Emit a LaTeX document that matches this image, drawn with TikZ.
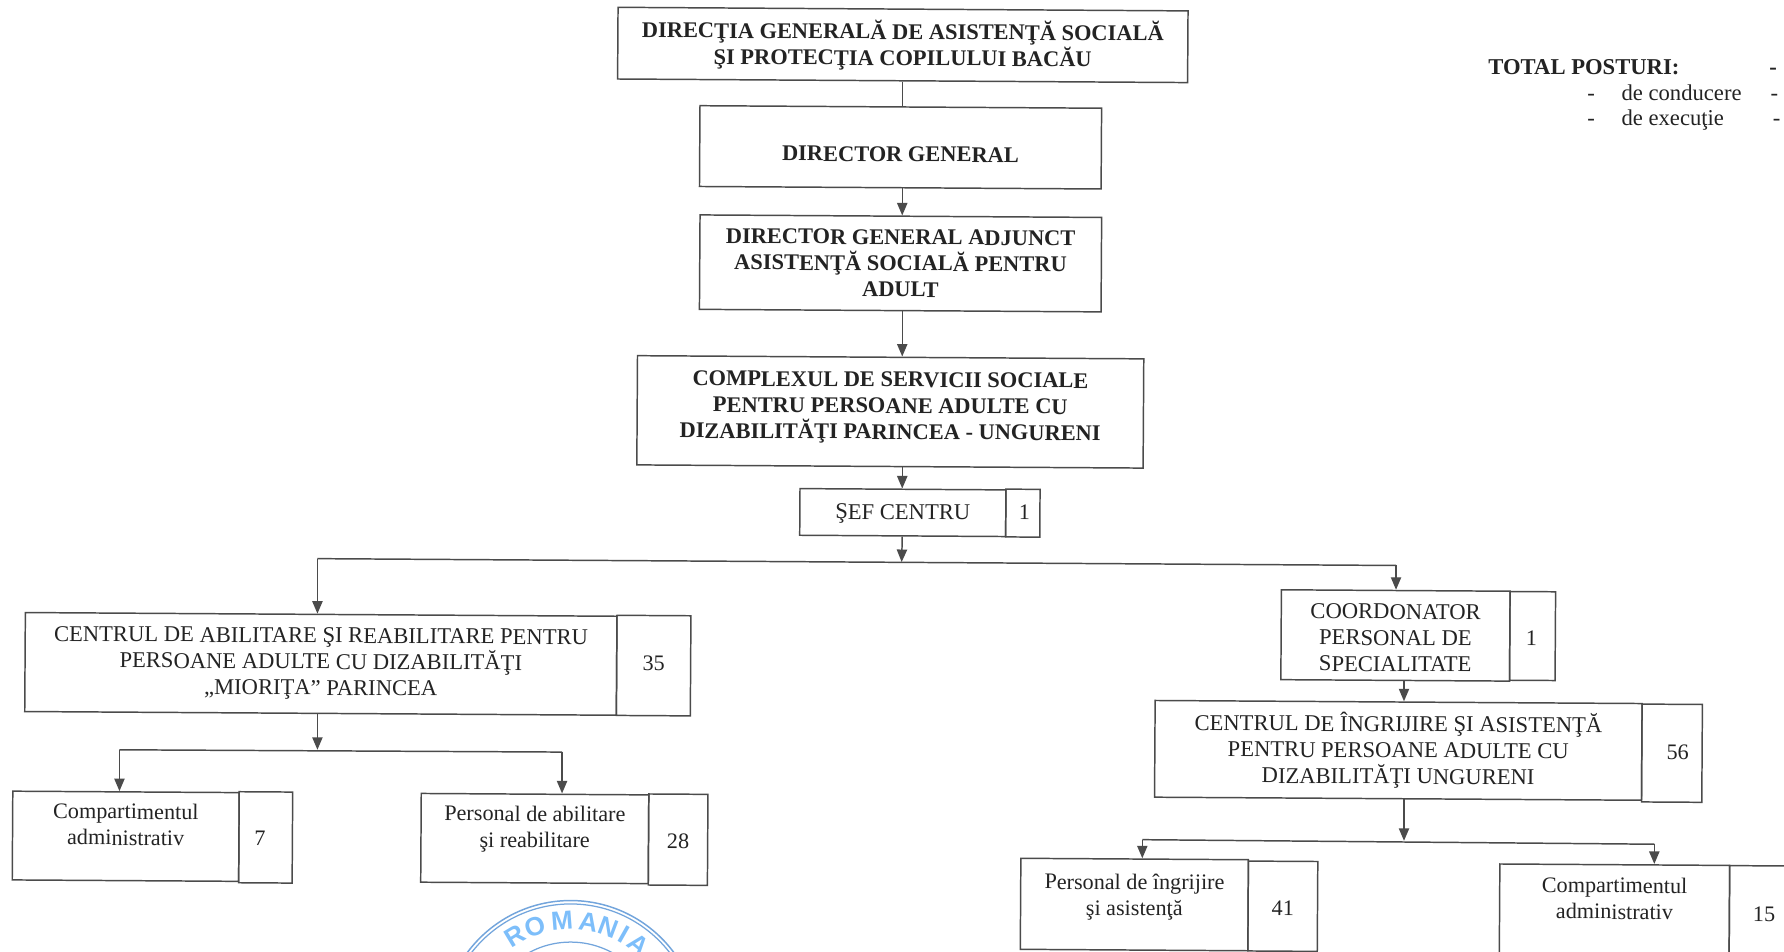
\documentclass[tikz,border=0pt]{standalone}
\usepackage{fontspec}
\setmainfont{Liberation Serif}
\newfontfamily\sealfont{Liberation Sans}
\usetikzlibrary{arrows.meta}
\definecolor{ink}{RGB}{35,35,35}
\definecolor{rule}{RGB}{75,75,75}
\definecolor{seal}{RGB}{125,190,250}
\definecolor{sealring}{RGB}{115,165,220}
\tikzset{
  x=1pt,y=-1pt,
  tilt/.style={rotate=-0.36},
  box/.style={draw=rule,line width=1.3pt,rectangle,inner sep=0pt,align=center,text=ink,tilt,
    font=\fontsize{19.5}{23}\selectfont},
  capbox/.style={box,font=\fontsize{19.85}{23}\selectfont},
  bbox/.style={box,font=\fontsize{19.7}{23}\selectfont\bfseries},
  free/.style={anchor=base west,inner sep=0pt,text=ink,font=\fontsize{19.9}{23}\selectfont},
  freeb/.style={free,font=\fontsize{19.9}{23}\selectfont\bfseries},
  link/.style={draw=rule,line width=1.3pt},
  arr/.style={link,-{Triangle[length=11pt,width=9pt]}},
}
\newcommand{\bx}[7]{% name, x1, x2, y1, y2, style, text
  \node[#6,minimum width={#3-#2},minimum height={#5-#4}] (#1)
    at ({(#2+#3)/2},{(#4+#5)/2}) {#7};}
% single line of text, moved by dx,dy from the centre of its box
\newcommand{\cnt}[3]{\hspace*{\dimexpr2\dimexpr#1pt\relax\relax}\raisebox{\dimexpr-#2pt-6.5pt\relax}[0pt][0pt]{#3}}
\begin{document}
\begin{tikzpicture}
\useasboundingbox (0,0) rectangle (1568,836);
\begin{scope}
\clip (0,0) rectangle (1568,836);
% seal
\coordinate (sc) at (501.5,904.5);
\draw[sealring,line width=1.3pt] (sc) circle[radius=113];
\draw[sealring,line width=1.1pt] (sc) circle[radius=110];
\draw[sealring,line width=1.1pt] (sc) circle[radius=76.5];
\foreach \a/\l in {-31/R,-19/O,-4.5/M,9.5/A,20.5/N,29.5/I,39/A}{
  \node[text=seal,inner sep=0pt,rotate=-\a,font=\fontsize{23}{23}\selectfont\sealfont\bfseries]
    (sl\a) at ({501.5+95.5*sin(\a)},{904.5-95.5*cos(\a)}) {\l};
}
% boxes
\bx{b1}{543}{1044}{8}{71}{bbox}{DIRECŢIA GENERALĂ DE ASISTENŢĂ SOCIALĂ\\ŞI PROTECŢIA COPILULUI BACĂU}
\bx{b2}{615}{968}{94}{165}{bbox}{\cnt{0}{6}{DIRECTOR GENERAL}}
\bx{b3}{615}{968}{190}{273}{bbox}{DIRECTOR GENERAL ADJUNCT\\ASISTENŢĂ SOCIALĂ PENTRU\\ADULT}
\bx{b4}{560}{1005}{314}{410}{bbox}{COMPLEXUL DE SERVICII SOCIALE\\PENTRU PERSOANE ADULTE CU\\DIZABILITĂŢI PARINCEA - UNGURENI\\[-12pt]~}
\bx{b5}{703}{884}{430}{471}{capbox}{\cnt{0}{-0.5}{ŞEF CENTRU}}
\bx{c5}{884}{914}{430}{472}{box}{\cnt{1.5}{-1}{1}}
\bx{b6}{22}{542}{540}{627}{capbox}{CENTRUL DE ABILITARE ŞI REABILITARE PENTRU\\PERSOANE ADULTE CU DIZABILITĂŢI\\„MIORIŢA” PARINCEA}
\bx{c6}{542}{607}{541}{629}{box}{\cnt{0}{-2}{35}}
\bx{b7}{1126}{1327}{519}{598}{capbox}{\rule{0pt}{17.5pt}COORDONATOR\\PERSONAL DE\\SPECIALITATE}
\bx{c7}{1327}{1367}{520}{598}{box}{\cnt{-1}{2}{1}}
\bx{b8}{1015}{1443}{617}{702}{capbox}{CENTRUL DE ÎNGRIJIRE ŞI ASISTENŢĂ\\PENTRU PERSOANE ADULTE CU\\DIZABILITĂŢI UNGURENI}
\bx{c8}{1443}{1496}{619}{705}{box}{\cnt{5}{-1}{56}}
\bx{b9}{11}{210}{696}{774}{box}{Compartimentul\\administrativ\\[-2pt]~}
\bx{c9}{210}{257}{696}{776}{box}{\cnt{-5}{1}{7}}
\bx{b10}{370}{570}{698}{776}{box}{Personal de abilitare\\şi reabilitare\\[-2pt]~}
\bx{c10}{570}{622}{698}{778}{box}{\cnt{0}{1}{28}}
\bx{b11}{897}{1097}{755}{835}{box}{Personal de îngrijire\\şi asistenţă\\[-6pt]~}
\bx{c11}{1097}{1158}{757}{836}{box}{\cnt{0}{2}{41}}
\bx{b12}{1318}{1520}{760}{840}{box}{Compartimentul\\administrativ\\[-2pt]~}
\bx{c12}{1520}{1585}{761}{842}{box}{\cnt{-2}{2}{15}}
\end{scope}
% junctions
\coordinate (sp) at (793,0);
\coordinate (j1) at (792.5,494);
\coordinate (j1l) at (279,491);
\coordinate (j1r) at (1227,497);
\coordinate (j2) at (279,659);
\coordinate (j2l) at (105,659);
\coordinate (j2r) at (494,661);
\coordinate (j3) at (1234,739);
\coordinate (j3l) at (1004,738);
\coordinate (j3r) at (1454,742);
% connectors
\draw[link] (sp |- b1.south) -- (sp |- b2.north);
\draw[arr] (sp |- b2.south) -- (sp |- b3.north);
\draw[arr] (sp |- b3.south) -- (sp |- b4.north);
\draw[arr] (sp |- b4.south) -- (sp |- b5.north);
\draw[arr] (sp |- b5.south) -- (j1);
\draw[link] (j1l) -- (j1r);
\draw[arr] (j1l) -- (j1l |- b6.north);
\draw[arr] (j1r) -- (j1r |- b7.north);
\draw[arr] (b7.south -| j3) -- (j3 |- b8.north);
\draw[arr] (j2 |- b6.south) -- (j2);
\draw[link] (j2l) -- (j2r);
\draw[arr] (j2l) -- (j2l |- b9.north);
\draw[arr] (j2r) -- (j2r |- b10.north);
\draw[arr] (j3 |- b8.south) -- (j3);
\draw[link] (j3l) -- (j3r);
\draw[arr] (j3l) -- (j3l |- b11.north);
\draw[arr] (j3r) -- (j3r |- b12.north);
% totals
\node[freeb] (t1) at (1308,65.5) {TOTAL POSTURI:};
\node[freeb] (t1d) at (1555,65.5) {-};
\node[free] (t2a) at (1395,88) {-};
\node[free] (t2) at (1425,88) {de conducere};
\node[free] (t2d) at (1556,88) {-};
\node[free] (t3a) at (1395,110) {-};
\node[free] (t3) at (1425,110) {de execuţie};
\node[free] (t3d) at (1558,110) {-};
\end{tikzpicture}
\end{document}
